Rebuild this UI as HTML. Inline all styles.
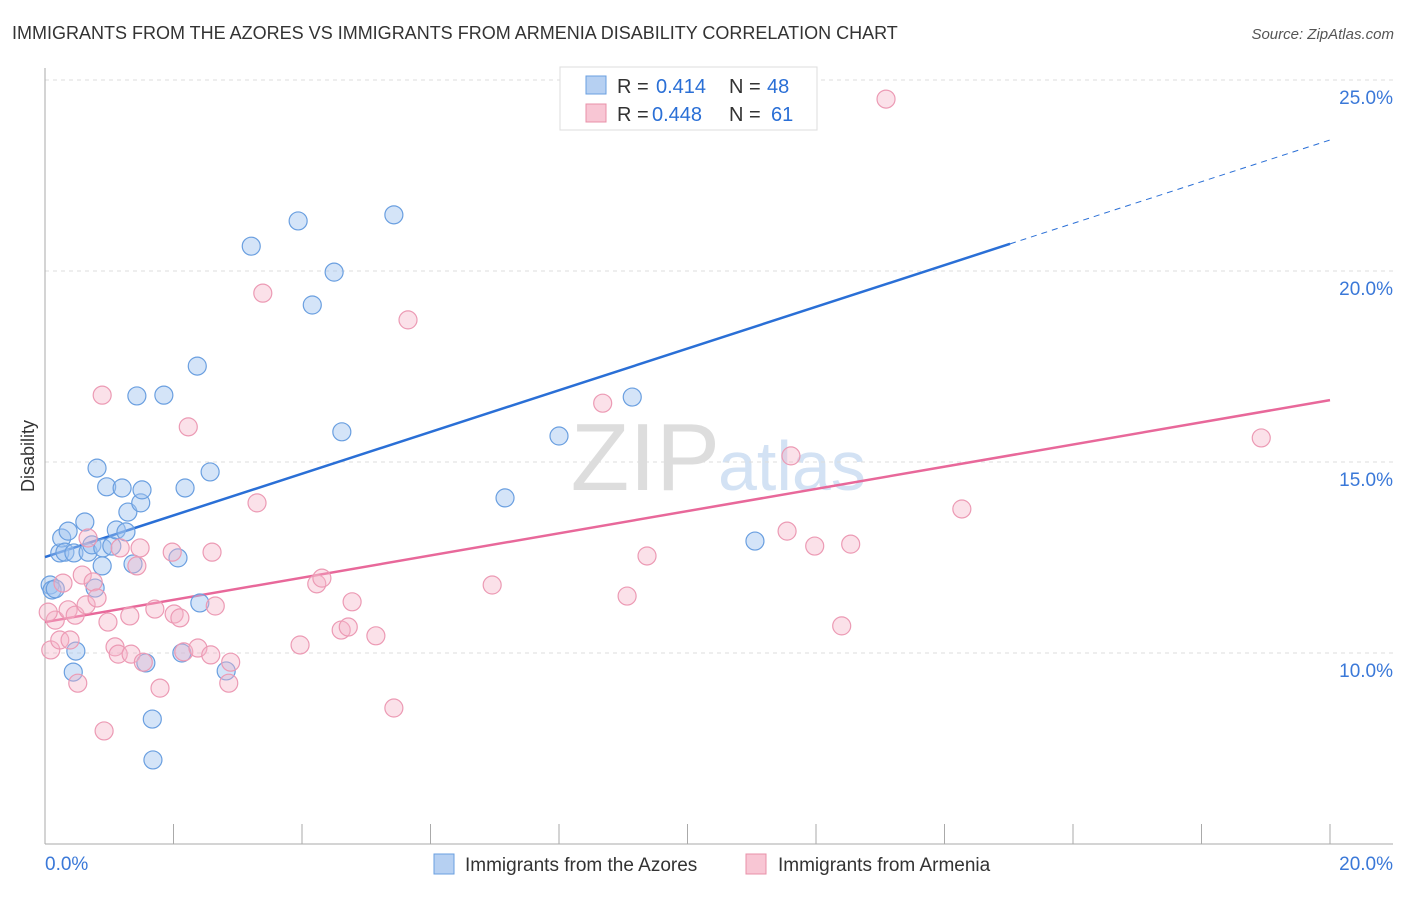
<!DOCTYPE html>
<html><head><meta charset="utf-8"><style>
body{margin:0;background:#fff;font-family:"Liberation Sans",sans-serif;}
svg text{font-family:"Liberation Sans",sans-serif;}
</style></head><body>
<svg id="chart" width="1406" height="892">
<text x="12" y="39" font-size="18" fill="#333">IMMIGRANTS FROM THE AZORES VS IMMIGRANTS FROM ARMENIA DISABILITY CORRELATION CHART</text>
<text x="1394" y="39" font-size="15" fill="#555" font-style="italic" text-anchor="end">Source: ZipAtlas.com</text>
<text x="34" y="456" font-size="18" fill="#333" text-anchor="middle" transform="rotate(-90 34 456)">Disability</text>
<text x="720" y="490" font-size="96" fill="#ddd" text-anchor="end" font-family="Liberation Serif">ZIP</text>
<text x="718" y="490" font-size="70" fill="#d3e2f4">atlas</text>
<g id="grid"></g><g id="axes"></g><g id="lines"></g><g id="pts"></g>
<g>
<rect x="560" y="67" width="257" height="63" fill="#fff" stroke="#ddd"/>
<rect x="586" y="76" width="20" height="18" fill="#b6d0f2" stroke="#6a9fe0"/>
<text x="617" y="93" font-size="20" fill="#333">R =</text><text x="656" y="93" font-size="20" fill="#2a6fd6">0.414</text>
<text x="729" y="93" font-size="20" fill="#333">N =</text><text x="767" y="93" font-size="20" fill="#2a6fd6">48</text>
<rect x="586" y="104" width="20" height="18" fill="#f8c6d4" stroke="#e890a8"/>
<text x="617" y="121" font-size="20" fill="#333">R =</text><text x="652" y="121" font-size="20" fill="#2a6fd6">0.448</text>
<text x="729" y="121" font-size="20" fill="#333">N =</text><text x="771" y="121" font-size="20" fill="#2a6fd6">61</text>
</g>
<g>
<rect x="434" y="854" width="20" height="20" fill="#b6d0f2" stroke="#6a9fe0"/>
<text x="465" y="871" font-size="19" fill="#333">Immigrants from the Azores</text>
<rect x="746" y="854" width="20" height="20" fill="#f8c6d4" stroke="#e890a8"/>
<text x="778" y="871" font-size="19" fill="#333">Immigrants from Armenia</text>
</g>
</svg>
<script>
const blueX=[.08,.11,.16,.23,.26,.36,.31,.45,.62,.67,.73,.81,.90,.89,.96,1.04,1.11,1.20,1.29,1.26,1.37,1.49,1.51,1.43,1.85,2.07,2.18,2.37,2.57,2.41,2.13,2.82,1.57,1.67,1.68,.44,.48,.78,3.21,3.94,4.16,4.50,4.62,5.43,7.16,8.00,9.14,11.05];
const blueY=[11.78,11.65,11.68,12.62,13.01,13.19,12.64,12.62,13.43,12.64,12.83,14.84,12.75,12.28,14.35,12.80,13.22,14.32,13.69,13.17,12.33,13.93,14.27,16.73,16.75,12.49,14.32,17.51,14.74,11.31,10.0,9.53,9.74,8.27,7.20,9.50,10.05,11.70,20.65,21.31,19.11,19.97,15.79,21.47,14.06,15.68,16.70,12.93];
const pinkX=[.09,.16,.23,.28,.36,.39,.47,.51,.58,.64,.67,.75,.81,.92,.89,.98,1.09,1.14,1.17,1.32,1.34,1.48,1.43,1.53,1.71,1.79,1.98,2.01,2.10,2.16,2.23,2.38,2.60,2.65,2.58,2.86,2.89,3.30,3.39,3.97,4.23,4.31,4.61,4.72,4.78,5.15,5.43,5.65,6.96,8.68,9.06,9.37,11.55,11.61,11.98,12.40,12.54,13.09,14.27,18.93,.05];
const pinkY=[10.08,10.86,10.34,11.83,11.13,10.34,10.99,9.21,12.04,11.26,13.01,11.86,11.44,7.96,16.75,10.81,10.16,9.97,12.75,10.97,9.97,12.75,12.28,9.76,11.15,9.08,12.64,11.02,10.92,10.03,15.92,10.13,12.64,11.23,9.95,9.21,9.76,13.93,19.42,10.21,11.81,11.96,10.60,10.68,11.34,10.45,8.56,18.72,11.78,16.54,11.49,12.54,13.19,15.16,12.80,10.71,12.85,24.50,13.77,15.63,11.07];
const blueFit=[12.51,0.546], pinkFit=[10.81,0.2905];
const yTicks=[10,15,20,25], xTicks=[0,2,4,6,8,10,12,14,16,18,20];
const NS='http://www.w3.org/2000/svg';
const sx=v=>45+v*64.25, sy=v=>844-(v-5)*38.2;
function mk(p,t,a){const e=document.createElementNS(NS,t);for(const k in a)e.setAttribute(k,a[k]);document.getElementById(p).appendChild(e);return e;}
yTicks.forEach(t=>{const g=mk('grid','line',{x1:45,x2:1393,y1:sy(t),y2:sy(t),stroke:'#ddd','stroke-dasharray':'4 4'});


const l=mk('grid','text',{x:1393,y:sy(t)+24,'font-size':19,fill:'#3a78d8','text-anchor':'end'});l.textContent=t.toFixed(1)+'%';

});
mk('axes','line',{x1:45,x2:45,y1:68,y2:844,stroke:'#aaa'});
mk('axes','line',{x1:45,x2:1393,y1:844,y2:844,stroke:'#aaa'});
xTicks.forEach(t=>{const e=mk('axes','line',{x1:sx(t),x2:sx(t),y1:824,y2:844,stroke:'#aaa'});

});
[[0,'start',45],[20,'end',1393]].forEach(([v,a,x])=>{const l=mk('axes','text',{x:x,y:870,'font-size':19,fill:'#3a78d8','text-anchor':a});l.textContent=v.toFixed(1)+'%';

});
const bl=mk('lines','line',{x1:sx(0),y1:sy(blueFit[0]),x2:sx(15.02),y2:sy(blueFit[0]+blueFit[1]*15.02),stroke:'#2a6fd6','stroke-width':2.5});


const bd=mk('lines','line',{x1:sx(15.02),y1:sy(blueFit[0]+blueFit[1]*15.02),x2:sx(20),y2:sy(blueFit[0]+blueFit[1]*20),stroke:'#2a6fd6','stroke-width':1,'stroke-dasharray':'6 5'});


const pl=mk('lines','line',{x1:sx(0),y1:sy(pinkFit[0]),x2:sx(20),y2:sy(pinkFit[0]+pinkFit[1]*20),stroke:'#e8689a','stroke-width':2.5});


blueX.forEach((x,i)=>{const c=mk('pts','circle',{cx:sx(x),cy:sy(blueY[i]),r:9,fill:'rgba(160,196,240,0.45)',stroke:'#6a9fe0','stroke-width':1.2});

});
pinkX.forEach((x,i)=>{const c=mk('pts','circle',{cx:sx(x),cy:sy(pinkY[i]),r:9,fill:'rgba(246,180,200,0.4)',stroke:'#ec9ab4','stroke-width':1.2});

});
</script>
</body></html>
